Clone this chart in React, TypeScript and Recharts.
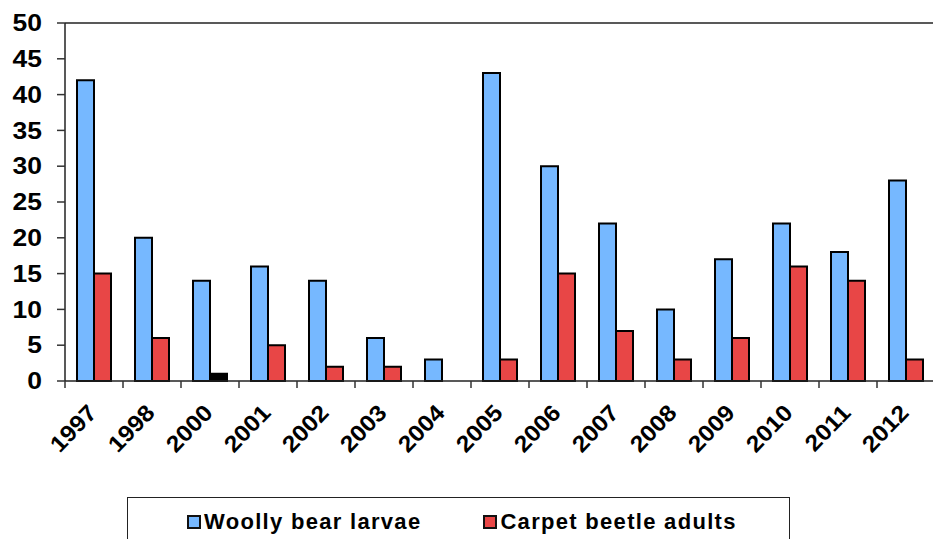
import React from 'react';
import { BarChart, Bar, XAxis, YAxis, ReferenceLine, Legend, Cell } from 'recharts';

const years = ['1997', '1998', '2000', '2001', '2002', '2003', '2004', '2005', '2006', '2007', '2008', '2009', '2010', '2011', '2012'];
const woollyBear = [42, 20, 14, 16, 14, 6, 3, 43, 30, 22, 10, 17, 22, 18, 28];
const carpetBeetle = [15, 6, 1, 5, 2, 2, 0, 3, 15, 7, 3, 6, 16, 14, 3];
const yTicks = [0, 5, 10, 15, 20, 25, 30, 35, 40, 45, 50];
const seriesNames = ['Woolly bear larvae', 'Carpet beetle adults'];

const BLUE = '#76B8FF';
const RED = '#E84646';
const FONT = '"Liberation Sans", Arial, Helvetica, sans-serif';

const data = years.map((year, i) => ({ year, woolly: woollyBear[i], carpet: carpetBeetle[i] }));

const XTick = (props: any) => {
  const { x, y, payload } = props;
  const half = payload && typeof payload.offset === 'number' && payload.offset > 0 ? payload.offset : 29;
  const ax = x + 4;
  const ay = y + 33;
  return (
    <g>
      <line x1={x - half} x2={x - half} y1={y} y2={y + 7} stroke="#333" strokeWidth={1.5} />
      <text
        x={0}
        y={0}
        textAnchor="end"
        transform={`translate(${ax}, ${ay}) rotate(-46) scale(1.08, 1)`}
        fontFamily={FONT}
        fontWeight="bold"
        fontSize={23}
        fill="#000"
      >
        {payload.value}
      </text>
    </g>
  );
};

const YTick = (props: any) => {
  const { x, y, payload } = props;
  return (
    <text
      x={0}
      y={0}
      dy="0.355em"
      textAnchor="end"
      transform={`translate(${x}, ${y}) scale(1.15, 1)`}
      fontFamily={FONT}
      fontWeight="bold"
      fontSize={23}
      fill="#000"
    >
      {payload.value}
    </text>
  );
};

const LegendBox = () => (
  <div
    style={{
      boxSizing: 'border-box',
      width: 663,
      height: 60,
      border: '1.5px solid #222',
      background: '#fff',
      paddingTop: 13,
      paddingLeft: 59,
      display: 'flex',
      alignItems: 'flex-start',
    }}
  >
    {[BLUE, RED].map((c, i) => (
      <div key={i} style={{ display: 'flex', alignItems: 'center', marginRight: i === 0 ? 62 : 0, height: 22 }}>
        <div style={{ width: 10, height: 10, border: '2px solid #111', background: c, marginRight: 3 }} />
        <span
          style={{
            fontFamily: FONT,
            fontWeight: 'bold',
            fontSize: 22,
            lineHeight: '22px',
            letterSpacing: 1.3,
            color: '#000',
            whiteSpace: 'nowrap',
          }}
        >
          {seriesNames[i]}
        </span>
      </div>
    ))}
  </div>
);

export default function App() {
  return (
    <div style={{ position: 'absolute', left: 0, top: 0, width: 933, height: 539, overflow: 'hidden', background: '#fff' }}>
      <BarChart
        width={940}
        height={539}
        data={data}
        margin={{ top: 23, right: 5, bottom: 0, left: 0 }}
        barSize={17}
        barGap={0}
      >
        <YAxis
          width={65}
          domain={[0, 50]}
          ticks={yTicks}
          interval={0}
          tickSize={8}
          tickMargin={15}
          axisLine={{ stroke: '#222', strokeWidth: 1.5 }}
          tickLine={{ stroke: '#333', strokeWidth: 1.5 }}
          tick={<YTick />}
        />
        <XAxis
          dataKey="year"
          height={158}
          interval={0}
          tickSize={0}
          tickMargin={0}
          tickLine={false}
          axisLine={{ stroke: '#222', strokeWidth: 1.5 }}
          tick={<XTick />}
        />
        <ReferenceLine y={50} stroke="#222" strokeWidth={1.5} ifOverflow="extendDomain" />
        <Bar dataKey="woolly" name={seriesNames[0]} fill={BLUE} stroke="#000" strokeWidth={2} isAnimationActive={false} />
        <Bar dataKey="carpet" name={seriesNames[1]} fill={RED} stroke="#000" strokeWidth={2} isAnimationActive={false}>
          {data.map((d, i) => (
            <Cell key={i} fill={d.year === '2000' ? '#000' : RED} />
          ))}
        </Bar>
        <Legend
          verticalAlign="middle"
          align="center"
          layout="horizontal"
          wrapperStyle={{ position: 'absolute', top: 497, left: 127, width: 663, height: 60, bottom: 'auto', right: 'auto' }}
          content={() => <LegendBox />}
        />
      </BarChart>
    </div>
  );
}
